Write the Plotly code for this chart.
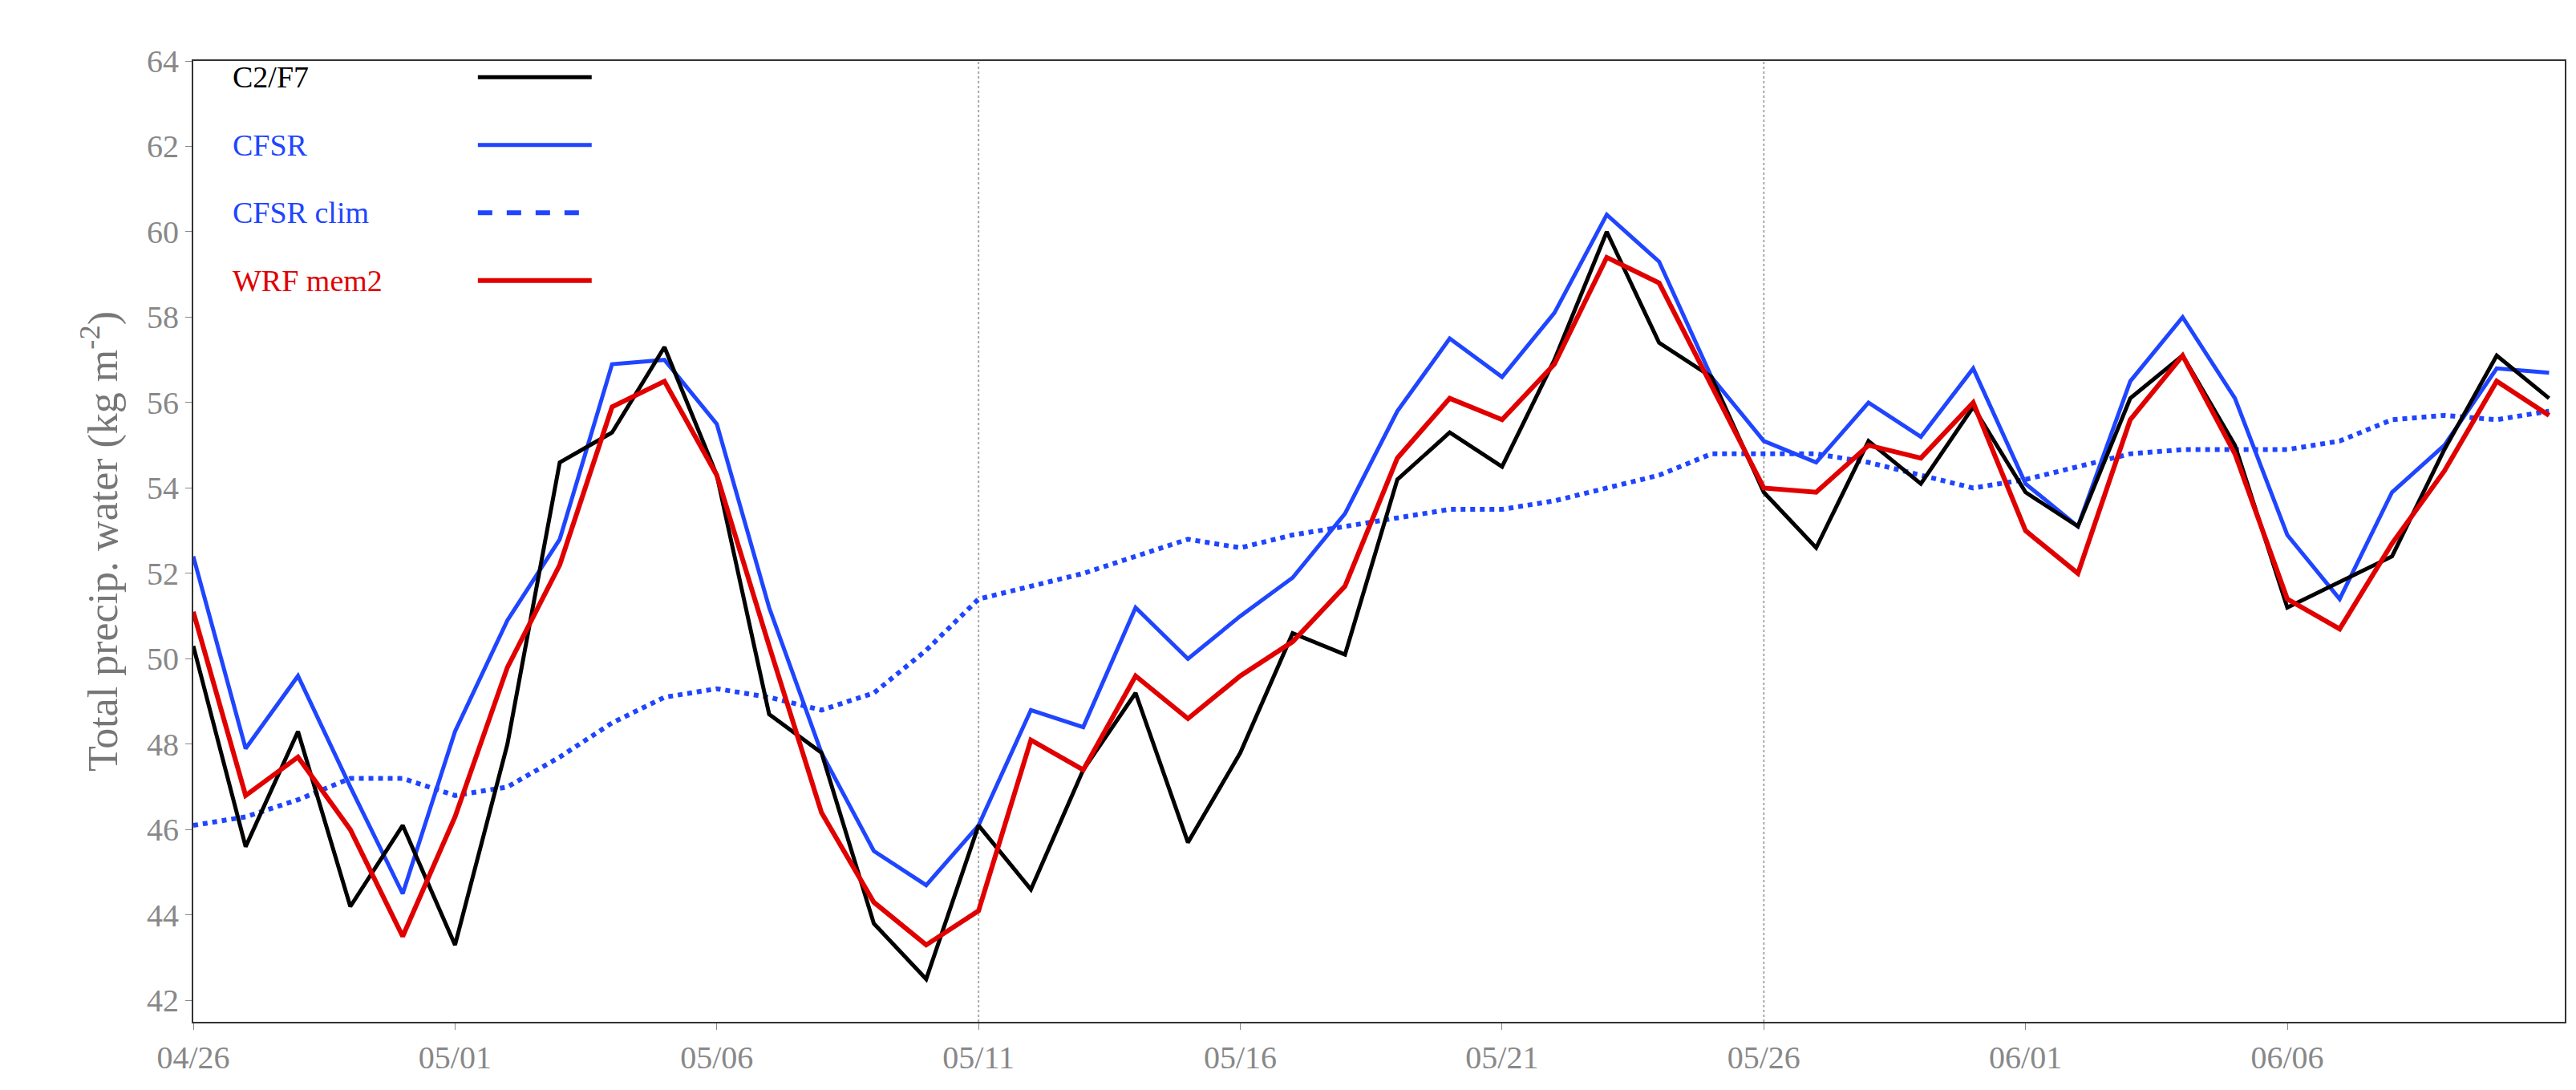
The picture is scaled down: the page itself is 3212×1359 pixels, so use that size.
import plotly.graph_objects as go

idx = list(range(46))
tick_vals = [0, 5, 10, 15, 20, 25, 30, 35, 40]
tick_text = ["04/26", "05/01", "05/06", "05/11", "05/16", "05/21", "05/26", "06/01", "06/06"]
grid_at = [15, 30]

c2f7 = [50.3, 45.6, 48.3, 44.2, 46.1, 43.3, 48.0, 54.6, 55.3, 57.3, 54.3, 48.7, 47.8, 43.8, 42.5, 46.1,
        44.6, 47.4, 49.2, 45.7, 47.8, 50.6, 50.1, 54.2, 55.3, 54.5, 57.0, 60.0, 57.4, 56.6, 53.9, 52.6,
        55.1, 54.1, 55.9, 53.9, 53.1, 56.1, 57.1, 55.0, 51.2, 51.8, 52.4, 54.9, 57.1, 56.1]
cfsr = [52.4, 47.9, 49.6, 47.0, 44.5, 48.3, 50.9, 52.8, 56.9, 57.0, 55.5, 51.2, 47.8, 45.5, 44.7, 46.1,
        48.8, 48.4, 51.2, 50.0, 51.0, 51.9, 53.4, 55.8, 57.5, 56.6, 58.1, 60.4, 59.3, 56.6, 55.1, 54.6,
        56.0, 55.2, 56.8, 54.1, 53.1, 56.5, 58.0, 56.1, 52.9, 51.4, 53.9, 55.0, 56.8, 56.7]
clim = [46.1, 46.3, 46.7, 47.2, 47.2, 46.8, 47.0, 47.7, 48.5, 49.1, 49.3, 49.1, 48.8, 49.2, 50.2, 51.4,
        51.7, 52.0, 52.4, 52.8, 52.6, 52.9, 53.1, 53.3, 53.5, 53.5, 53.7, 54.0, 54.3, 54.8, 54.8, 54.8,
        54.6, 54.3, 54.0, 54.2, 54.5, 54.8, 54.9, 54.9, 54.9, 55.1, 55.6, 55.7, 55.6, 55.8]
wrf = [51.1, 46.8, 47.7, 46.0, 43.5, 46.3, 49.8, 52.2, 55.9, 56.5, 54.3, 50.3, 46.4, 44.3, 43.3, 44.1,
       48.1, 47.4, 49.6, 48.6, 49.6, 50.4, 51.7, 54.7, 56.1, 55.6, 56.9, 59.4, 58.8, 56.4, 54.0, 53.9,
       55.0, 54.7, 56.0, 53.0, 52.0, 55.6, 57.1, 54.8, 51.4, 50.7, 52.7, 54.4, 56.5, 55.7]

series = [
    ("C2/F7", c2f7, "black", "solid", 5),
    ("CFSR", cfsr, "#1f45ff", "solid", 5),
    ("CFSR clim", clim, "#1f45ff", "dot", 6),
    ("WRF mem2", wrf, "#e00000", "solid", 6),
]

fig = go.Figure()
FONT = "Liberation Serif"
for name, ys, col, dash, w in [series[2], series[1], series[0], series[3]]:
    fig.add_trace(go.Scatter(x=idx, y=ys, mode="lines", name=name, showlegend=False,
                             line=dict(color=col, dash=dash, width=w)))

for k, (name, ys, col, dash, w) in enumerate(series):
    yy = 0.983 - k * 0.0705
    fig.add_annotation(xref="paper", yref="paper", x=0.016, y=yy, text=name, showarrow=False,
                       xanchor="left", yanchor="middle", font=dict(family=FONT, size=38, color=col))
    fig.add_shape(type="line", xref="paper", yref="paper", x0=0.12, x1=0.168, y0=yy, y1=yy,
                  line=dict(color=col, dash="dash" if dash == "dot" else "solid", width=w))

for g in grid_at:
    fig.add_vline(x=g, line=dict(color="#aaaaaa", dash="dot", width=2), layer="below")

fig.update_layout(
    width=3212, height=1359, plot_bgcolor="white", paper_bgcolor="white",
    margin=dict(l=233, r=22, t=68, b=93),
    font=dict(family=FONT),
    xaxis=dict(range=[0, 45.3], tickvals=tick_vals, ticktext=tick_text, showgrid=False,
               showline=True, linecolor="#333", linewidth=2, mirror=True, ticks="outside",
               ticklen=8, tickcolor="#888", tickfont=dict(size=40, color="#888"), zeroline=False),
    yaxis=dict(range=[41.5, 64], dtick=2, showgrid=False, showline=True, linecolor="#333",
               linewidth=2, mirror=True, ticks="outside", ticklen=8, tickcolor="#888",
               tickfont=dict(size=40, color="#888"), zeroline=False,
               title=dict(text="Total precip. water (kg m<sup>-2</sup>)",
                          font=dict(size=52, color="#777"), standoff=20)),
)
fig.write_html("out.html")
